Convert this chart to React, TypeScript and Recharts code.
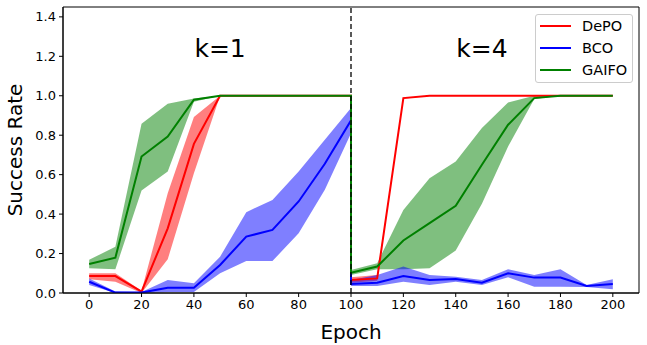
import {
  ComposedChart,
  Line,
  Area,
  XAxis,
  YAxis,
  ReferenceLine,
  ReferenceDot,
  ReferenceArea,
} from "recharts"

// epochs: k=1 runs 0..100, k=4 is plotted from 100..200 (100 appears twice)
const epochs = [0, 10, 20, 30, 40, 50, 60, 70, 80, 90, 100, 100, 110, 120, 130, 140, 150, 160, 170, 180, 190, 200]

const depoMean = [0.086, 0.086, 0.007, 0.328, 0.756, 1, 1, 1, 1, 1, 1, 0.066, 0.074, 0.988, 1, 1, 1, 1, 1, 1, 1, 1]
const depoLow = [0.07, 0.057, 0.0, 0.171, 0.607, 1, 1, 1, 1, 1, 1, 0.052, 0.062, 0.985, 1, 1, 1, 1, 1, 1, 1, 1]
const depoHigh = [0.1, 0.1, 0.012, 0.506, 0.892, 1, 1, 1, 1, 1, 1, 0.08, 0.091, 0.99, 1, 1, 1, 1, 1, 1, 1, 1]

const bcoMean = [0.057, 0.002, 0.002, 0.027, 0.027, 0.142, 0.286, 0.32, 0.464, 0.655, 0.875, 0.046, 0.052, 0.086, 0.066, 0.071, 0.052, 0.1, 0.078, 0.078, 0.036, 0.046]
const bcoLow = [0.04, 0, 0, 0.005, 0.005, 0.1, 0.162, 0.162, 0.303, 0.523, 0.81, 0.036, 0.036, 0.057, 0.041, 0.057, 0.041, 0.08, 0.032, 0.032, 0.03, 0.019]
const bcoHigh = [0.074, 0.007, 0.005, 0.066, 0.049, 0.184, 0.41, 0.472, 0.616, 0.777, 0.938, 0.066, 0.091, 0.134, 0.091, 0.083, 0.066, 0.12, 0.091, 0.12, 0.041, 0.07]

const gaifoMean = [0.147, 0.179, 0.692, 0.793, 0.98, 1, 1, 1, 1, 1, 1, 0.103, 0.134, 0.266, 0.354, 0.442, 0.65, 0.853, 0.988, 1, 1, 1]
const gaifoLow = [0.125, 0.12, 0.52, 0.616, 0.97, 1, 1, 1, 1, 1, 1, 0.091, 0.12, 0.12, 0.125, 0.215, 0.452, 0.743, 0.983, 1, 1, 1]
const gaifoHigh = [0.168, 0.235, 0.858, 0.96, 0.986, 1, 1, 1, 1, 1, 1, 0.117, 0.151, 0.421, 0.582, 0.667, 0.836, 0.966, 1, 1, 1, 1]

const xTicks = [0, 20, 40, 60, 80, 100, 120, 140, 160, 180, 200]
const yTicks = [0, 0.2, 0.4, 0.6, 0.8, 1.0, 1.2, 1.4]

const series = [
  { name: "DePO", color: "#ff0000" },
  { name: "BCO", color: "#0000ff" },
  { name: "GAIFO", color: "#008000" },
]

const data = epochs.map((x, i) => ({
  x,
  depo: depoMean[i],
  depoBand: [depoLow[i], depoHigh[i]],
  bco: bcoMean[i],
  bcoBand: [bcoLow[i], bcoHigh[i]],
  gaifo: gaifoMean[i],
  gaifoBand: [gaifoLow[i], gaifoHigh[i]],
}))

const font = "'DejaVu Sans', sans-serif"

// legend drawn as an overlay so it doesn't eat into the plot area
function LegendBox() {
  return (
    <div
      style={{
        position: "absolute",
        left: 535,
        top: 14,
        width: 98,
        height: 69,
        border: "1px solid #cccccc",
        borderRadius: 3,
        background: "rgba(255,255,255,0.8)",
        fontFamily: font,
        fontSize: 14.5,
        boxSizing: "border-box",
      }}
    >
      {series.map(s => (
        <div key={s.name} style={{ display: "flex", alignItems: "center", height: 22 }}>
          <div style={{ width: 31, height: 2, background: s.color, marginLeft: 4, marginRight: 11 }} />
          <span style={{ color: "#000" }}>{s.name}</span>
        </div>
      ))}
    </div>
  )
}

function YLabel(props: any) {
  const vb = props.viewBox || {}
  const cy = vb.y + vb.height / 2
  return (
    <text x={15} y={cy} transform={`rotate(-90, 15, ${cy})`} textAnchor="middle" dominantBaseline="central"
      fontSize={20} fill="#000" fontFamily={font}>
      Success Rate
    </text>
  )
}

export default function App() {
  return (
    <div style={{ position: "absolute", left: 0, top: 0, width: 647, height: 345, background: "#fff" }}>
      <ComposedChart
        width={647}
        height={345}
        data={data}
        margin={{ top: 7, right: 8, left: 0, bottom: 0 }}
        style={{ fontFamily: font }}
      >
        <XAxis
          dataKey="x"
          type="number"
          domain={[-10, 210]}
          ticks={xTicks}
          allowDataOverflow
          height={52}
          tickSize={4}
          tickMargin={3}
          stroke="#000"
          tick={{ fill: "#000", fontSize: 13 }}
          label={{ value: "Epoch", position: "insideBottom", offset: 6, fontSize: 20, fill: "#000" }}
        />
        <YAxis
          type="number"
          domain={[0, 1.45]}
          ticks={yTicks}
          allowDataOverflow
          width={63}
          tickSize={4}
          tickMargin={3}
          stroke="#000"
          tick={{ fill: "#000", fontSize: 13 }}
          tickFormatter={(v: number) => v.toFixed(1)}
          label={<YLabel />}
        />
        <Area dataKey="gaifoBand" stroke="none" fill="#008000" fillOpacity={0.5} isAnimationActive={false} />
        <Area dataKey="depoBand" stroke="none" fill="#ff0000" fillOpacity={0.5} isAnimationActive={false} />
        <Area dataKey="bcoBand" stroke="none" fill="#0000ff" fillOpacity={0.5} isAnimationActive={false} />
        <Line dataKey="depo" stroke="#ff0000" strokeWidth={2} dot={false} isAnimationActive={false} />
        <Line dataKey="bco" stroke="#0000ff" strokeWidth={2} dot={false} isAnimationActive={false} />
        <Line dataKey="gaifo" stroke="#008000" strokeWidth={2} dot={false} isAnimationActive={false} />
        <ReferenceLine x={100} stroke="#000" strokeDasharray="5 3" strokeWidth={1.3} />
        <ReferenceArea x1={-10} x2={210} y1={0} y2={1.45} fill="none" stroke="#000" strokeWidth={1} />
        <ReferenceDot x={50} y={1.24} r={0} fill="none" stroke="none"
          label={{ value: "k=1", position: "center", fontSize: 25, fill: "#000" }} />
        <ReferenceDot x={150} y={1.24} r={0} fill="none" stroke="none"
          label={{ value: "k=4", position: "center", fontSize: 25, fill: "#000" }} />
      </ComposedChart>
      <LegendBox />
    </div>
  )
}
